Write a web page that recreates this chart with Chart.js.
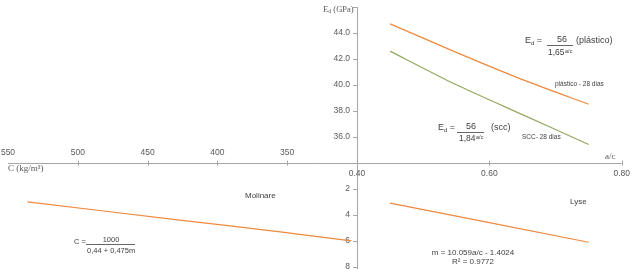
<!DOCTYPE html>
<html>
<head>
<meta charset="utf-8">
<script src="https://cdn.jsdelivr.net/npm/chart.js@4.4.0/dist/chart.umd.min.js"></script>
<style>
  html, body { margin: 0; padding: 0; background: #fff; }
  #wrap { width: 633px; height: 269px; }
</style>
</head>
<body>
<div id="wrap"><canvas id="chart" width="633" height="269"></canvas></div>
<script>
// valores
const acValues   = [0.45, 0.55, 0.65, 0.75];
const edPlastico = [44.7, 42.5, 40.4, 38.5];
const edScc      = [42.6, 40.0, 37.7, 35.4];

const lyseAc = [0.45, 0.75];
const lyseM  = [3.1, 6.1];

const molinareC = [536, 427, 355, 304];
const molinareM = [3.0, 4.4, 5.3, 6.0];

const acTicks = [0.40, 0.60, 0.80];
const edTicks = [36, 38, 40, 42, 44];
const cTicks  = [550, 500, 450, 400, 350];
const mTicks  = [2, 4, 6, 8];

const ORANGE = '#f0883e';
const GREEN  = '#94a860';
const AXIS   = '#a6a6a6';
const TXT    = '#595959';

const pts = (xs, ys) => xs.map((x, i) => ({ x, y: ys[i] }));

function txt(ctx, s, x, y, font, align) {
  ctx.font = font;
  ctx.textAlign = align || 'left';
  ctx.textBaseline = 'middle';
  ctx.fillText(s, x, y);
  return ctx.measureText(s).width;
}

// E com índice d
function ed(ctx, x, y) {
  let w = txt(ctx, 'E', x, y, '9px "Liberation Sans"');
  w += txt(ctx, 'd', x + w, y + 2, '6px "Liberation Sans"');
  return w;
}

function base(ctx, b, x, y) {
  const w = txt(ctx, b, x, y, '8.5px "Liberation Sans"');
  txt(ctx, 'a/c', x + w + 0.5, y - 2, '5.5px "Liberation Sans"');
}

const axesPlugin = {
  id: 'quadrantAxes',
  beforeDatasetsDraw(chart) {
    const { ctx, chartArea: a, scales } = chart;
    const ax = scales.x.getPixelForValue(0.40);
    const ay = scales.y.getPixelForValue(34);
    ctx.save();
    ctx.strokeStyle = AXIS;
    ctx.lineWidth = 1;
    ctx.beginPath();
    ctx.moveTo(Math.round(ax) + 0.5, a.top);
    ctx.lineTo(Math.round(ax) + 0.5, a.bottom);
    ctx.moveTo(a.left, Math.round(ay) + 0.5);
    ctx.lineTo(a.right, Math.round(ay) + 0.5);
    // marcas
    [...edTicks, 46].forEach(v => {
      const y = Math.round(scales.y.getPixelForValue(v)) + 0.5;
      ctx.moveTo(ax - 4, y); ctx.lineTo(ax, y);
    });
    mTicks.forEach(v => {
      const y = Math.round(scales.ym.getPixelForValue(v)) + 0.5;
      ctx.moveTo(ax - 4, y); ctx.lineTo(ax, y);
    });
    acTicks.slice(1).forEach(v => {
      const x = Math.round(scales.x.getPixelForValue(v)) + 0.5;
      ctx.moveTo(x, ay - 2); ctx.lineTo(x, ay + 3);
    });
    cTicks.slice(1).forEach(v => {
      const x = Math.round(scales.xc.getPixelForValue(v)) + 0.5;
      ctx.moveTo(x, ay - 2); ctx.lineTo(x, ay + 3);
    });
    ctx.stroke();

    ctx.fillStyle = TXT;
    const f = '8.5px "Liberation Sans"';
    edTicks.forEach(v => txt(ctx, v.toFixed(1), ax - 7, scales.y.getPixelForValue(v), f, 'right'));
    mTicks.forEach(v => txt(ctx, String(v), ax - 7, scales.ym.getPixelForValue(v), f, 'right'));
    acTicks.forEach(v => txt(ctx, v.toFixed(2), scales.x.getPixelForValue(v), ay + 11, f, 'center'));
    cTicks.forEach(v => txt(ctx, String(v), scales.xc.getPixelForValue(v), ay - 10, f, 'center'));

    // títulos dos eixos
    const serif = '8.5px "Liberation Serif"';
    let w = txt(ctx, 'E', 323, 10, serif);
    w += txt(ctx, 'd', 323 + w, 11.5, '6px "Liberation Serif"');
    txt(ctx, ' (GPa)', 323 + w, 10, serif);
    txt(ctx, 'C (kg/m³)', 8, 169, '9px "Liberation Serif"');
    txt(ctx, 'a/c', 605, 157, '9px "Liberation Serif"');
    ctx.restore();
  },
  afterDatasetsDraw(chart) {
    const { ctx } = chart;
    ctx.save();
    ctx.fillStyle = '#404040';
    ctx.strokeStyle = '#404040';
    ctx.lineWidth = 0.8;

    // plástico
    let w = ed(ctx, 525, 41);
    txt(ctx, ' =', 525 + w, 41, '9px "Liberation Sans"');
    txt(ctx, '56', 562, 40, '9px "Liberation Sans"', 'center');
    txt(ctx, '(plástico)', 576, 41, '9px "Liberation Sans"');
    base(ctx, '1,65', 548, 53);
    // scc
    w = ed(ctx, 438, 128);
    txt(ctx, ' =', 438 + w, 128, '9px "Liberation Sans"');
    txt(ctx, '56', 471, 127, '9px "Liberation Sans"', 'center');
    txt(ctx, '(scc)', 491, 128, '9px "Liberation Sans"');
    base(ctx, '1,84', 459, 139);

    txt(ctx, 'plástico - 28 dias', 555, 84, '6.5px "Liberation Sans"');
    txt(ctx, 'SCC- 28 dias', 522, 137, '6.5px "Liberation Sans"');

    // Molinare
    txt(ctx, 'Molinare', 245, 196, '8px "Liberation Sans"');
    txt(ctx, 'C =', 74, 242, '7.5px "Liberation Sans"');
    txt(ctx, '1000', 111, 240, '7.5px "Liberation Sans"', 'center');
    txt(ctx, '0,44 + 0,475m', 87, 251, '7.5px "Liberation Sans"');

    // Lyse
    txt(ctx, 'Lyse', 570, 202, '8px "Liberation Sans"');
    txt(ctx, 'm = 10.059a/c - 1.4024', 473, 253, '8px "Liberation Sans"', 'center');
    txt(ctx, 'R² = 0.9772', 473, 262, '8px "Liberation Sans"', 'center');

    ctx.beginPath();
    ctx.moveTo(547, 45.5); ctx.lineTo(573, 45.5);
    ctx.moveTo(457, 132.5); ctx.lineTo(484, 132.5);
    ctx.moveTo(86, 244.5); ctx.lineTo(135, 244.5);
    ctx.stroke();
    ctx.restore();
  }
};

const lineStyle = { showLine: true, pointRadius: 0, borderWidth: 1.2, tension: 0.2, fill: false };

new Chart(document.getElementById('chart'), {
  type: 'scatter',
  data: {
    datasets: [
      { label: 'plástico - 28 dias', data: pts(acValues, edPlastico), borderColor: ORANGE, xAxisID: 'x', yAxisID: 'y', ...lineStyle },
      { label: 'SCC- 28 dias', data: pts(acValues, edScc), borderColor: GREEN, xAxisID: 'x', yAxisID: 'y', ...lineStyle },
      { label: 'Lyse', data: pts(lyseAc, lyseM), borderColor: ORANGE, xAxisID: 'x', yAxisID: 'ym', ...lineStyle },
      { label: 'Molinare', data: pts(molinareC, molinareM), borderColor: ORANGE, xAxisID: 'xc', yAxisID: 'ym', ...lineStyle },
    ]
  },
  options: {
    responsive: false,
    animation: false,
    layout: { padding: { left: 8, right: 11.3, top: 7, bottom: 0 } },
    plugins: { legend: { display: false }, tooltip: { enabled: false } },
    scales: {
      x:  { type: 'linear', min: -0.1274, max: 0.80, display: false },
      xc: { type: 'linear', min: 110.4, max: 550, reverse: true, display: false },
      y:  { type: 'linear', min: 25.8, max: 46, display: false },
      ym: { type: 'linear', min: -11.94, max: 8.15, reverse: true, display: false },
    }
  },
  plugins: [axesPlugin]
});
</script>
</body>
</html>
